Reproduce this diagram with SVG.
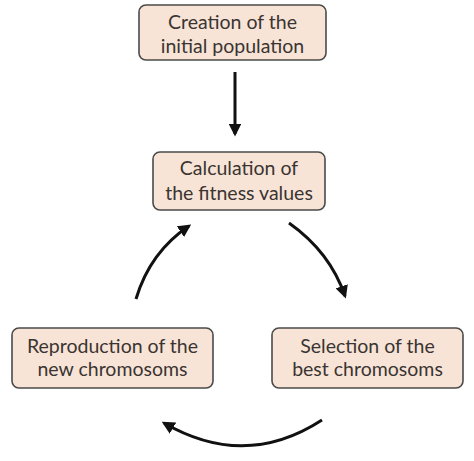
<svg xmlns="http://www.w3.org/2000/svg" width="474" height="461" viewBox="0 0 474 461">
<style>
.box{fill:#F8E4D6;stroke:#4a4a4a;stroke-width:1.6}
.t{font-family:Lato,"Open Sans",sans-serif;font-size:19.5px;fill:#3a3432;text-anchor:middle}
.c{fill:none;stroke:#111;stroke-width:3}
</style>
<defs>
<marker id="ah" viewBox="0 0 10 10" refX="8" refY="5" markerWidth="4.3" markerHeight="4.3" orient="auto" markerUnits="strokeWidth">
<path d="M0,0 L10,5 L0,10 z" fill="#111"/>
</marker>
</defs>
<rect width="474" height="461" fill="#fff"/>
<g id="n1"><rect class="box" x="139" y="5" width="187" height="55" rx="7"/>
<text class="t" x="232.5" y="29">Creation of the</text><text class="t" x="232.5" y="53">initial population</text></g>
<g id="n2"><rect class="box" x="153" y="152" width="172" height="58" rx="7"/>
<text class="t" x="239" y="175">Calculation of</text><text class="t" x="239" y="200">the fitness values</text></g>
<g id="n3"><rect class="box" x="12" y="328" width="201" height="60" rx="7"/>
<text class="t" x="112.5" y="353">Reproduction of the</text><text class="t" x="112.5" y="376">new chromosoms</text></g>
<g id="n4"><rect class="box" x="272" y="328" width="191" height="60" rx="7"/>
<text class="t" x="367.5" y="353">Selection of the</text><text class="t" x="367.5" y="376">best chromosoms</text></g>
<g id="connectors">
<path class="c" d="M235,72 L235,134" marker-end="url(#ah)"/>
<path class="c" d="M289,223 Q330,252 345,296" marker-end="url(#ah)"/>
<path class="c" d="M322,420 Q245,470 164,423" marker-end="url(#ah)"/>
<path class="c" d="M136,299 Q150,252 189,226" marker-end="url(#ah)"/>
</g>
</svg>
